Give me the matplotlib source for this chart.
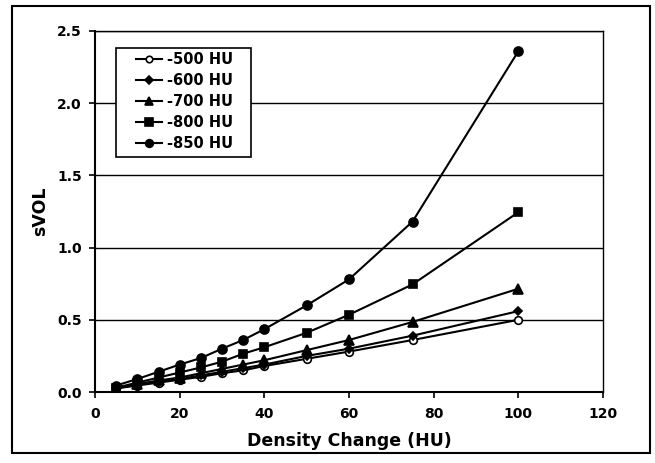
import matplotlib
matplotlib.use('Agg')
import matplotlib.pyplot as plt
from matplotlib.patches import Rectangle

density_change = [5, 10, 15, 20, 25, 30, 35, 40, 50, 60, 75, 100]

svol_500 = [0.025, 0.045, 0.065, 0.085, 0.105, 0.13, 0.15, 0.18, 0.23, 0.28, 0.36, 0.50]
svol_600 = [0.025, 0.05, 0.07, 0.09, 0.115, 0.14, 0.165, 0.19, 0.25, 0.30, 0.39, 0.56]
svol_700 = [0.03, 0.055, 0.08, 0.10, 0.13, 0.16, 0.19, 0.22, 0.29, 0.36, 0.485, 0.715]
svol_800 = [0.03, 0.065, 0.10, 0.135, 0.17, 0.21, 0.265, 0.31, 0.41, 0.535, 0.745, 1.245]
svol_850 = [0.045, 0.09, 0.14, 0.19, 0.235, 0.30, 0.36, 0.435, 0.60, 0.78, 1.18, 2.36]

labels = ['-500 HU', '-600 HU', '-700 HU', '-800 HU', '-850 HU']
series = [svol_500, svol_600, svol_700, svol_800, svol_850]
markers = ['o', 'D', '^', 's', 'o']
msizes = [5.5, 4.5, 6.5, 6, 6.5]
faces = ['white', 'black', 'black', 'black', 'black']

plt.rcParams['font.family'] = 'DejaVu Sans'
plt.rcParams['font.weight'] = 'bold'

fig = plt.figure(figsize=(6.55, 4.63), dpi=100)
# outer frame round the whole chart
fig.patches.append(Rectangle((12/655, 1-453/463), 638/655, 447/463,
	transform=fig.transFigure, fill=False, edgecolor='black', linewidth=1.5))

ax = fig.add_axes([95/655, 1-392/463, 508/655, 361/463])
for i in range(len(series)):
	ax.plot(density_change, series[i], color='black', linewidth=1.5,
		marker=markers[i], markersize=msizes[i], markerfacecolor=faces[i],
		markeredgecolor='black', markeredgewidth=1.2, label=labels[i], zorder=3)

ax.set_xlim(0, 120)
ax.set_ylim(0, 2.5)
ax.set_xticks([0, 20, 40, 60, 80, 100, 120])
ax.set_yticks([0.0, 0.5, 1.0, 1.5, 2.0, 2.5])
ax.set_yticklabels(['0.0', '0.5', '1.0', '1.5', '2.0', '2.5'])
ax.yaxis.grid(True, color='black', linewidth=1.0)
ax.set_axisbelow(True)
ax.tick_params(direction='out', length=4, width=1.2, labelsize=10, colors='black')
ax.tick_params(axis='x', pad=7)
ax.tick_params(axis='y', pad=5.5)
for s in ax.spines.values():
	s.set_linewidth(1.0)
ax.spines['left'].set_linewidth(1.5)
ax.spines['bottom'].set_linewidth(1.5)

ax.set_xlabel('Density Change (HU)', fontsize=12.5, fontweight='bold', labelpad=8)
ax.set_ylabel('sVOL', fontsize=12.5, fontweight='bold', labelpad=6)

# legend box drawn by hand (wide side padding like the original)
ax.add_patch(Rectangle((21/508, 235/361), 135/508, 109/361, transform=ax.transAxes,
	facecolor='white', edgecolor='black', linewidth=1.2, zorder=4))
leg = ax.legend(loc='upper left', bbox_to_anchor=(41/508, 340/361), fontsize=10.5,
	frameon=False, handlelength=1.8, labelspacing=0.42, borderpad=0,
	borderaxespad=0, handletextpad=0.35, markerscale=0.85)
leg.set_zorder(5)

fig.savefig('out.png', dpi=100)
